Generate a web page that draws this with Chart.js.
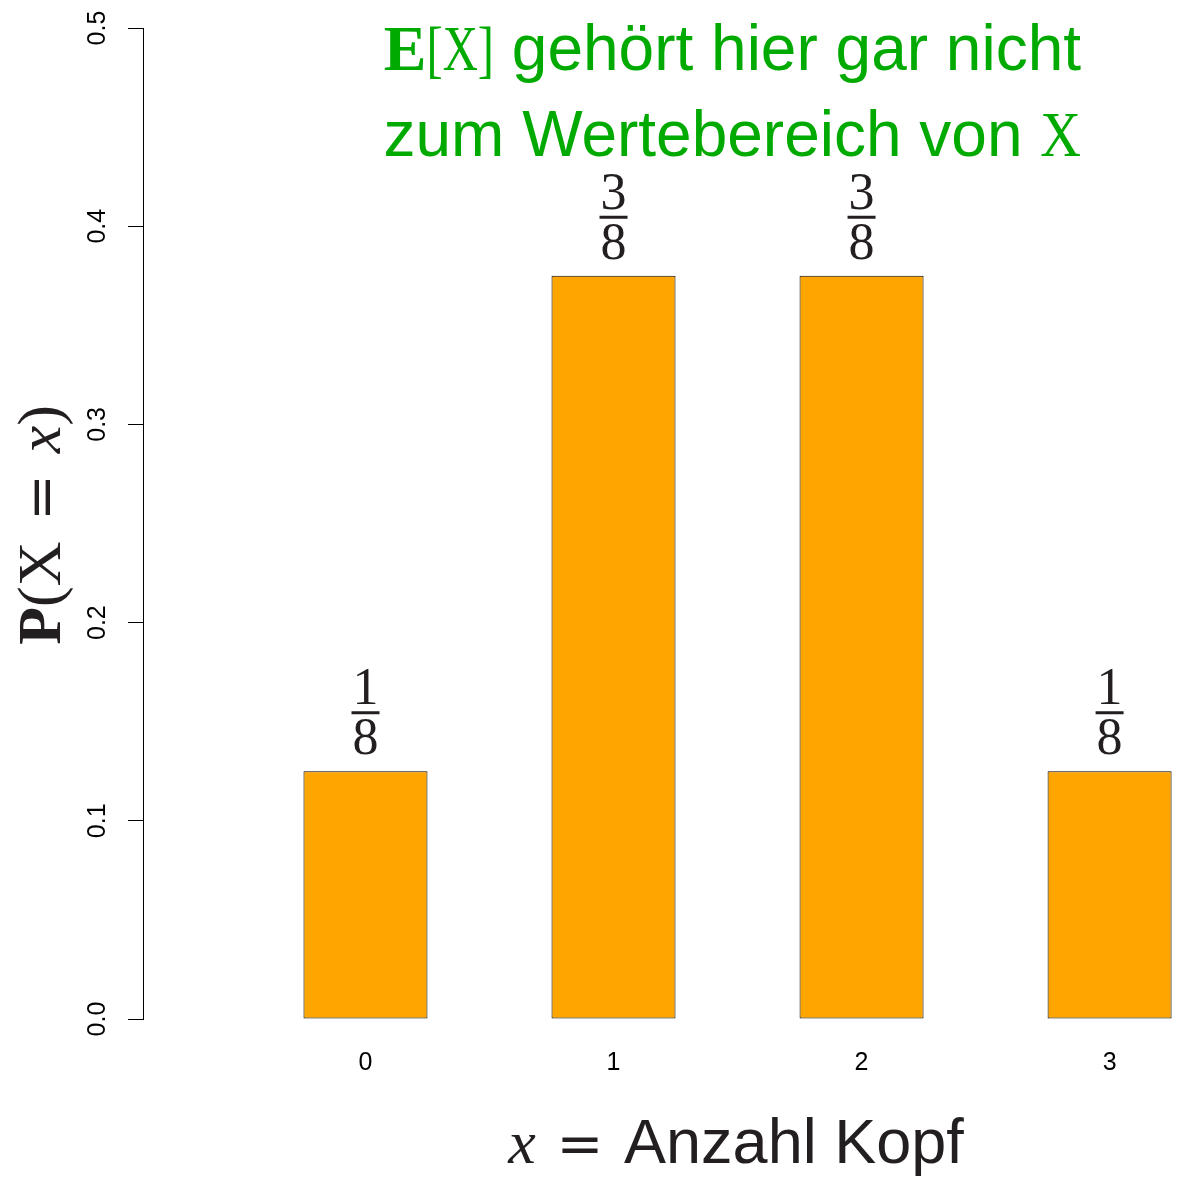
<!DOCTYPE html>
<html>
<head>
<meta charset="utf-8">
<script src="https://cdn.jsdelivr.net/npm/chart.js@4/dist/chart.umd.min.js"></script>
<style>
  html, body { margin: 0; padding: 0; background: #fff; }
  canvas { display: block; }
</style>
</head>
<body>
<canvas id="chart" width="1184" height="1177"></canvas>
<script>
// data
const xValues = [0, 1, 2, 3];
const probs = [0.125, 0.375, 0.375, 0.125];
const numerators = ['1', '3', '3', '1'];
const denominators = ['8', '8', '8', '8'];
const yTickStep = 0.1;

const SANS = '"Liberation Sans", Arial, sans-serif';
const SERIF = '"Liberation Serif", "Times New Roman", serif';
const EQ = '"DejaVu Serif", serif';
const GREEN = '#00AA00';
const INK = '#231F20';

// sx = horizontal squeeze for the narrow math glyphs
const titleLine1 = [
    { t: 'E', f: 'bold 64px ' + SERIF },
    { t: '[X]', f: '64px ' + SERIF, sx: 0.76 },
    { t: ' gehört hier gar nicht', f: '64px ' + SANS }
];
const titleLine2 = [
    { t: 'zum Wertebereich von ', f: '64px ' + SANS },
    { t: 'X', f: '64px ' + SERIF, sx: 0.88 }
];
const xTitle = [
    { t: 'x', f: 'italic 62px ' + SERIF },
    { t: '\u2004', f: '62px ' + SERIF },
    { t: '=', f: '56px ' + EQ },
    { t: '\u2004', f: '62px ' + SERIF },
    { t: 'Anzahl Kopf', f: '63px ' + SANS }
];
const yTitle = [
    { t: 'P', f: 'bold 62px ' + SERIF },
    { t: '(X\u2004', f: '62px ' + SERIF },
    { t: '=', f: '56px ' + EQ },
    { t: '\u2004', f: '62px ' + SERIF },
    { t: 'x', f: 'italic 62px ' + SERIF },
    { t: ')', f: '62px ' + SERIF }
];

// draw a row of differently styled pieces, align = 'left' | 'center' | 'right'
function drawRuns(ctx, runs, x, y, align) {
    let total = 0;
    runs.forEach(r => {
        ctx.font = r.f;
        r.w = ctx.measureText(r.t).width * (r.sx || 1);
        total += r.w;
    });
    let cx = x;
    if (align === 'center') cx = x - total / 2;
    if (align === 'right') cx = x - total;
    ctx.textAlign = 'left';
    ctx.textBaseline = 'alphabetic';
    runs.forEach(r => {
        ctx.font = r.f;
        ctx.save();
        ctx.translate(cx, y);
        ctx.scale(r.sx || 1, 1);
        ctx.fillText(r.t, 0, 0);
        ctx.restore();
        cx += r.w;
    });
}

const annotations = {
    id: 'annotations',
    afterDraw(chart) {
        const ctx = chart.ctx;
        ctx.save();

        // fractions above bars
        const meta = chart.getDatasetMeta(0);
        ctx.fillStyle = INK;
        ctx.strokeStyle = INK;
        ctx.font = '52px ' + SERIF;
        ctx.textAlign = 'center';
        ctx.textBaseline = 'alphabetic';
        meta.data.forEach((bar, i) => {
            const cx = bar.x, top = bar.y;
            ctx.fillText(numerators[i], cx, top - 67);
            ctx.fillText(denominators[i], cx, top - 17);
            ctx.lineWidth = 3;
            ctx.beginPath();
            ctx.moveTo(cx - 14, top - 58.5);
            ctx.lineTo(cx + 14, top - 58.5);
            ctx.stroke();
        });

        // green note
        ctx.fillStyle = GREEN;
        drawRuns(ctx, titleLine1, 1081, 70, 'right');
        drawRuns(ctx, titleLine2, 1081, 156, 'right');

        // axis titles
        ctx.fillStyle = INK;
        drawRuns(ctx, xTitle, 736, 1163, 'center');
        ctx.translate(60, 525);
        ctx.rotate(-Math.PI / 2);
        drawRuns(ctx, yTitle, 0, 0, 'center');

        ctx.restore();
    }
};

new Chart(document.getElementById('chart'), {
    type: 'bar',
    data: {
        datasets: [{
            data: xValues.map((x, i) => ({ x: x, y: probs[i] })),
            backgroundColor: '#FFA500',
            borderColor: '#000000',
            borderWidth: 1,
            borderSkipped: false,
            barPercentage: 0.5,
            categoryPercentage: 1
        }]
    },
    options: {
        responsive: false,
        animation: false,
        devicePixelRatio: 1,
        layout: { padding: { top: 27, left: 0, right: 0, bottom: 0 } },
        plugins: { legend: { display: false }, tooltip: { enabled: false } },
        scales: {
            x: {
                type: 'linear',
                offset: false,
                min: -0.897,
                max: 3.30,
                grid: { display: false },
                border: { display: false },
                ticks: {
                    color: '#000',
                    font: { family: SANS, size: 25 },
                    padding: 21,
                    callback: v => String(v)
                },
                afterBuildTicks: s => { s.ticks = xValues.map(v => ({ value: v })); },
                afterFit: s => { s.height = 158; }
            },
            y: {
                min: 0,
                max: 0.5,
                grid: { drawOnChartArea: false, tickLength: 15, color: '#000', lineWidth: 1 },
                border: { display: true, color: '#000', width: 1 },
                ticks: {
                    stepSize: yTickStep,
                    color: '#000',
                    font: { family: SANS, size: 25 },
                    minRotation: 90,
                    maxRotation: 90,
                    crossAlign: 'center',
                    padding: 13,
                    callback: v => v.toFixed(1)
                },
                afterFit: s => { s.width = 143; }
            }
        }
    },
    plugins: [annotations]
});
</script>
</body>
</html>
